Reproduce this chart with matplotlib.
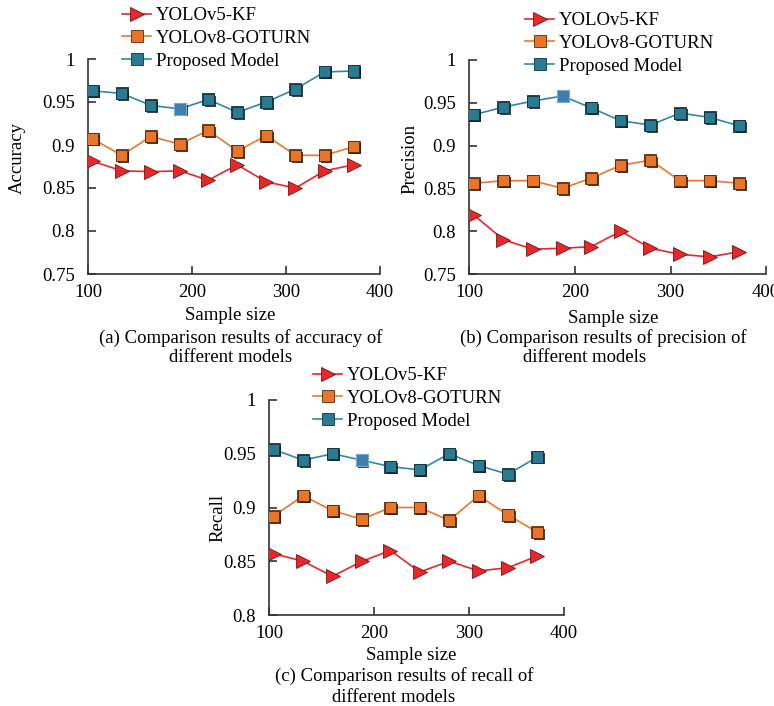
import matplotlib.pyplot as plt
import matplotlib.patheffects as pe

plt.rcParams['font.family'] = ['Liberation Serif', 'DejaVu Serif']

# sample sizes (x positions of the points, read against the 200/300/400 ticks)
sample_size = [94, 125, 156, 187, 217, 248, 279, 310, 341, 372]
x_ticks = [89, 200, 300, 400]
x_tick_labels = ['100', '200', '300', '400']

# (a) accuracy
acc_v5 = [0.881, 0.870, 0.869, 0.870, 0.859, 0.877, 0.857, 0.850, 0.870, 0.877]
acc_v8 = [0.907, 0.888, 0.910, 0.901, 0.917, 0.893, 0.911, 0.888, 0.888, 0.898]
acc_prop = [0.963, 0.960, 0.946, 0.942, 0.953, 0.938, 0.950, 0.965, 0.985, 0.986]

# (b) precision
pre_v5 = [0.819, 0.790, 0.779, 0.780, 0.782, 0.800, 0.780, 0.773, 0.770, 0.776]
pre_v8 = [0.856, 0.859, 0.859, 0.850, 0.862, 0.877, 0.883, 0.859, 0.859, 0.856]
pre_prop = [0.936, 0.945, 0.952, 0.958, 0.944, 0.929, 0.924, 0.938, 0.933, 0.923]

# (c) recall
rec_v5 = [0.857, 0.850, 0.836, 0.850, 0.860, 0.840, 0.850, 0.841, 0.844, 0.855]
rec_v8 = [0.892, 0.911, 0.897, 0.889, 0.900, 0.900, 0.888, 0.911, 0.893, 0.877]
rec_prop = [0.954, 0.944, 0.950, 0.944, 0.938, 0.935, 0.950, 0.939, 0.931, 0.947]

labels = ['YOLOv5-KF', 'YOLOv8-GOTURN', 'Proposed Model']
W, H = 774, 706
FS = 13.5

fig = plt.figure(figsize=(W / 100, H / 100), dpi=100)

shadow = [pe.SimplePatchShadow(offset=(1.4, -1.4), shadow_rgbFace='#1e1e1e', alpha=0.85), pe.Normal()]


def panel(l, t, r, b, v5, v8, prop, ylo, ylabel, ypos, leg, xl, cap1, cap2):
    ax = fig.add_axes([l / W, 1 - b / H, (r - l) / W, (b - t) / H])
    ax.plot(sample_size, v5, color='#e8272b', lw=1.2, marker='>', ms=9.5,
            mfc='#e8272b', mec='#7a1010', mew=0.6, label=labels[0], zorder=3)
    ax.plot(sample_size, v8, color='#ea772b', lw=1.2, marker='s', ms=8,
            mfc='#e8752a', mec='#5a2a08', mew=0.6, label=labels[1], zorder=3)
    ax.plot(sample_size, prop, color='#2e8aa0', lw=1.2, marker='s', ms=8,
            mfc='#2a7a92', mec='#0f3340', mew=0.6, label=labels[2], zorder=3)
    # 3d-looking squares: markers again with a dark offset shadow
    ax.plot(sample_size, v8, ls='none', marker='s', ms=8, mfc='#e8752a',
            mec='#5a2a08', mew=0.6, path_effects=shadow, zorder=4)
    ax.plot(sample_size, prop, ls='none', marker='s', ms=8, mfc='#2a7a92',
            mec='#0f3340', mew=0.6, path_effects=shadow, zorder=4)
    # highlighted 4th point
    ax.plot(sample_size[3], prop[3], marker='s', ms=9, mfc='#3f7fae',
            mec='#7aa6cf', mew=0.8, zorder=5)
    ax.set_xlim(89, 400)
    ax.set_ylim(ylo, 1)
    ax.set_xticks(x_ticks)
    ax.set_xticklabels(x_tick_labels)
    n = int(round((1 - ylo) / 0.05))
    yt = [round(ylo + 0.05 * i, 2) for i in range(n + 1)]
    ax.set_yticks(yt)
    ax.set_yticklabels(['%g' % v for v in yt])
    ax.spines['top'].set_visible(False)
    ax.spines['right'].set_visible(False)
    for s in ['left', 'bottom']:
        ax.spines[s].set_color('#333333')
        ax.spines[s].set_linewidth(1.2)
    ax.tick_params(direction='in', length=6, width=1.2, color='#333333',
                   labelsize=FS)
    ax.tick_params(axis='x', pad=7)
    ax.tick_params(axis='y', pad=9.5)
    ax.patch.set_alpha(0)
    fig.text(ypos[0] / W, 1 - ypos[1] / H, ylabel, rotation=90, ha='center',
             va='center', fontsize=FS)
    fig.text(xl[0] / W, 1 - xl[1] / H, 'Sample size', ha='center', va='center',
             fontsize=FS)
    fig.text(cap1[0] / W, 1 - cap1[1] / H, cap1[2], ha='center', va='center',
             fontsize=FS)
    fig.text(cap2[0] / W, 1 - cap2[1] / H, 'different models', ha='center',
             va='center', fontsize=FS)
    ax.legend(loc='upper left', bbox_to_anchor=(leg[0] / W, 1 - leg[1] / H),
              bbox_transform=fig.transFigure, frameon=False, fontsize=FS,
              borderpad=0, borderaxespad=0, handlelength=1.55, handletextpad=0.25,
              labelspacing=0.3)
    return ax


panel(88, 59, 380, 274, acc_v5, acc_v8, acc_prop, 0.75, 'Accuracy', (17, 158),
      (122, 7), (230, 316),
      (241, 338, '(a) Comparison results of accuracy of'), (231, 358))
panel(469, 60, 766, 274, pre_v5, pre_v8, pre_prop, 0.75, 'Precision', (410, 159),
      (525, 12), (613, 318),
      (603, 338, '(b) Comparison results of precision of'), (585, 358))
panel(269, 400, 564, 615, rec_v5, rec_v8, rec_prop, 0.8, 'Recall', (218, 518),
      (313, 367), (411, 656),
      (404, 676, '(c) Comparison results of recall of'), (394, 697))

fig.savefig('out.png', dpi=100)
